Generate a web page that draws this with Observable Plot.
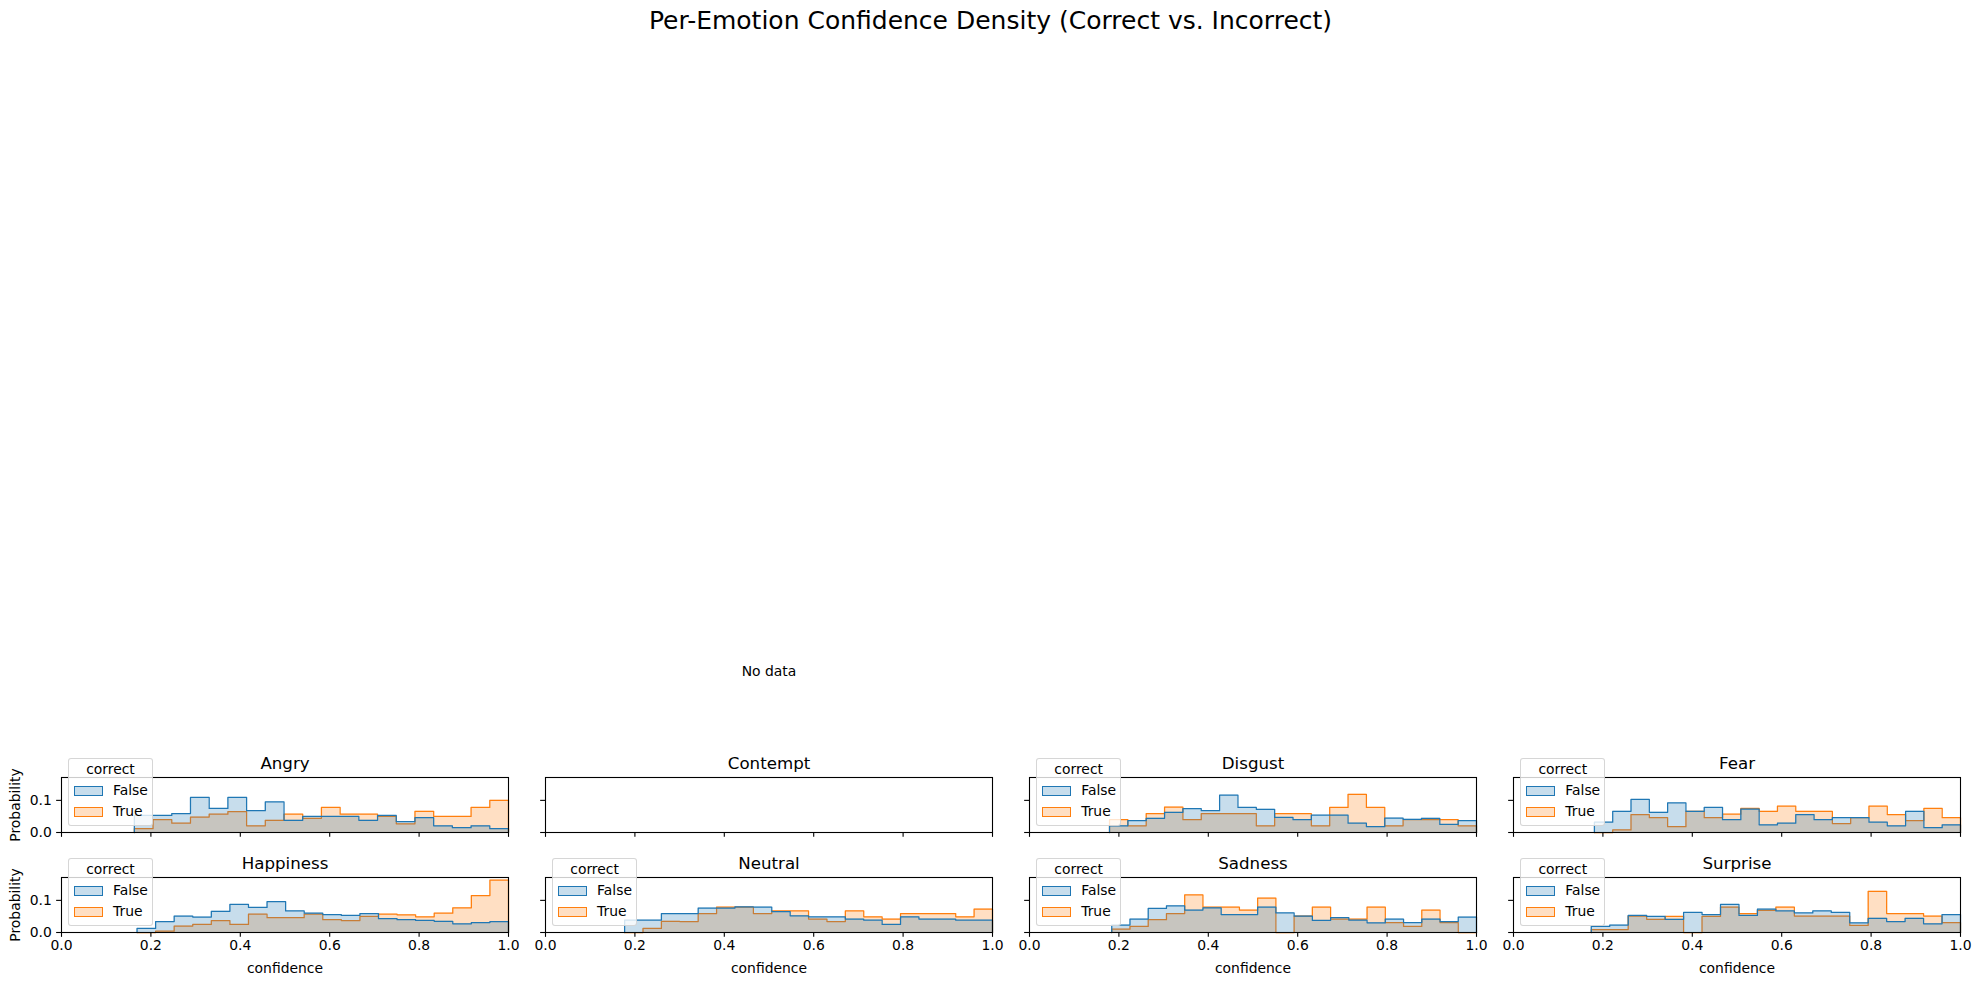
<!DOCTYPE html>
<html>
<head>
<meta charset="utf-8">
<script src="https://cdn.jsdelivr.net/npm/d3@7"></script>
<script src="https://cdn.jsdelivr.net/npm/@observablehq/plot@0.6"></script>
<style>
  body { margin: 0; background: #fff; font-family: "DejaVu Sans", sans-serif; }
  #fig { position: relative; width: 1981px; height: 985px; overflow: hidden; background: #fff; }
  .suptitle { position: absolute; left: 0; width: 1981px; top: 6px; text-align: center; font-size: 25px; line-height: 29px; color: #000; }
  .legend { position: absolute; width: 85px; height: 68px; box-sizing: border-box; background: rgba(255,255,255,0.8);
            border: 1px solid rgba(204,204,204,0.8); border-radius: 3px; font-size: 13.9px; color: #000; }
  .legend .lt { position: absolute; left: 0; width: 100%; top: 2px; text-align: center; line-height: 16px; }
  .legend .lab { position: absolute; left: 44px; line-height: 16px; }
  .legend .sw { position: absolute; left: 5px; width: 29px; height: 10px; box-sizing: border-box; }
</style>
</head>
<body>
<div id="fig">
  <div class="suptitle">Per-Emotion Confidence Density (Correct vs. Incorrect)</div>
</div>
<script>
// ---- data ----
const emotions = ["Angry", "Contempt", "Disgust", "Fear", "Happiness", "Neutral", "Sadness", "Surprise"];
const hueLevels = ["False", "True"];
const hueColors = ["#1f77b4", "#ff7f0e"];
const xTicks = [0, 0.2, 0.4, 0.6, 0.8, 1.0];
const yTicks = [0, 0.1];
// lowest confidence in each emotion (first bin edge); highest is 1.0; 20 bins each
const binStart = [0.163, null, 0.179, 0.181, 0.169, 0.177, 0.184, 0.174];
const binEnd = 1.0;

const angryFalse = [0.053, 0.053, 0.059, 0.109, 0.075, 0.109, 0.068, 0.095, 0.038, 0.050, 0.050, 0.050, 0.038, 0.053, 0.034, 0.046, 0.021, 0.015, 0.021, 0.012];
const angryTrue  = [0.012, 0.040, 0.029, 0.048, 0.057, 0.065, 0.021, 0.038, 0.057, 0.044, 0.078, 0.057, 0.057, 0.050, 0.027, 0.066, 0.050, 0.050, 0.078, 0.100];
const disgustFalse = [0.021, 0.037, 0.044, 0.063, 0.074, 0.068, 0.116, 0.078, 0.072, 0.047, 0.040, 0.054, 0.054, 0.029, 0.018, 0.045, 0.041, 0.044, 0.025, 0.037];
const disgustTrue  = [0.040, 0.021, 0.059, 0.079, 0.040, 0.059, 0.059, 0.059, 0.021, 0.059, 0.059, 0.021, 0.078, 0.119, 0.078, 0.021, 0.040, 0.040, 0.040, 0.021];
const fearFalse = [0.032, 0.066, 0.103, 0.063, 0.092, 0.066, 0.078, 0.040, 0.073, 0.024, 0.029, 0.056, 0.040, 0.046, 0.046, 0.032, 0.021, 0.066, 0.015, 0.024];
const fearTrue  = [0.000, 0.008, 0.056, 0.046, 0.018, 0.066, 0.046, 0.057, 0.075, 0.066, 0.082, 0.066, 0.066, 0.028, 0.046, 0.082, 0.056, 0.037, 0.075, 0.046];
const happinessFalse = [0.0125, 0.034, 0.051, 0.048, 0.066, 0.0875, 0.078, 0.096, 0.067, 0.060, 0.056, 0.053, 0.059, 0.043, 0.040, 0.0375, 0.035, 0.027, 0.031, 0.034];
const happinessTrue  = [0.000, 0.004, 0.020, 0.025, 0.037, 0.025, 0.057, 0.046, 0.046, 0.057, 0.040, 0.037, 0.050, 0.057, 0.055, 0.049, 0.060, 0.077, 0.115, 0.163];
const neutralFalse = [0.0385, 0.0385, 0.059, 0.059, 0.076, 0.076, 0.080, 0.079, 0.065, 0.052, 0.049, 0.049, 0.042, 0.0385, 0.025, 0.049, 0.042, 0.042, 0.0385, 0.0385];
const neutralTrue  = [0.000, 0.0125, 0.035, 0.034, 0.059, 0.079, 0.079, 0.059, 0.067, 0.067, 0.042, 0.034, 0.067, 0.049, 0.042, 0.059, 0.059, 0.059, 0.049, 0.073];
const sadnessFalse = [0.023, 0.042, 0.075, 0.083, 0.070, 0.077, 0.056, 0.056, 0.079, 0.061, 0.051, 0.0375, 0.046, 0.0385, 0.030, 0.042, 0.031, 0.042, 0.034, 0.048];
const sadnessTrue  = [0.0104, 0.019, 0.040, 0.059, 0.117, 0.079, 0.079, 0.070, 0.107, 0.000, 0.051, 0.079, 0.042, 0.042, 0.079, 0.031, 0.019, 0.070, 0.031, 0.000];
const surpriseFalse = [0.019, 0.023, 0.053, 0.050, 0.041, 0.0625, 0.056, 0.0875, 0.053, 0.073, 0.067, 0.061, 0.067, 0.0625, 0.030, 0.044, 0.034, 0.044, 0.027, 0.056];
const surpriseTrue  = [0.009, 0.009, 0.051, 0.041, 0.050, 0.000, 0.050, 0.079, 0.059, 0.069, 0.079, 0.051, 0.051, 0.051, 0.022, 0.128, 0.059, 0.059, 0.051, 0.031];

const seriesFalse = [angryFalse, null, disgustFalse, fearFalse, happinessFalse, neutralFalse, sadnessFalse, surpriseFalse];
const seriesTrue  = [angryTrue, null, disgustTrue, fearTrue, happinessTrue, neutralTrue, sadnessTrue, surpriseTrue];
const noDataX = 0.5, noDataY = 0.5;

// ---- layout ----
const nCols = 4;
const axW = 447, axH = 55;
const colLeft0 = 61, colStep = 484.1;
const rowTops = [777, 877.3];
const ML = 60, MR = 12, MT = 30, MB = 50;
const tickLen = 4.86;

const allVals = [...seriesFalse, ...seriesTrue].filter(Boolean).flat();
const yMax = d3.max(allVals) * 1.05;

function stepData(start, vals) {
  const n = vals.length, w = (binEnd - start) / n;
  const area = vals.map((v, i) => ({x: start + i * w, y: v}));
  area.push({x: binEnd, y: vals[n - 1]});
  const line = [{x: start, y: 0}, ...area, {x: binEnd, y: 0}];
  return {area, line};
}

const fig = document.getElementById("fig");

emotions.forEach((emo, idx) => {
  const col = idx % nCols, row = Math.floor(idx / nCols);
  const axLeft = colLeft0 + col * colStep, axTop = rowTops[row];
  const marks = [];
  const hasData = seriesFalse[idx] != null;
  if (hasData) {
    // True drawn first, False on top (seaborn order)
    [[seriesTrue[idx], hueColors[1]], [seriesFalse[idx], hueColors[0]]].forEach(([vals, color]) => {
      const {area, line} = stepData(binStart[idx], vals);
      marks.push(Plot.areaY(area, {x: "x", y: "y", curve: "step-after", fill: color, fillOpacity: 0.25}));
      marks.push(Plot.lineY(line, {x: "x", y: "y", curve: "step-after", stroke: color, strokeWidth: 1.25}));
    });
  } else {
    marks.push(Plot.text([{x: noDataX, y: noDataY, t: "No data"}], {x: "x", y: "y", text: "t", fontSize: 13.9, fill: "black", lineAnchor: "middle"}));
  }
  marks.push(Plot.axisX({ticks: xTicks, tickSize: tickLen, tickPadding: 3, strokeWidth: 1.1, label: null,
    tickFormat: row === 1 ? ".1f" : () => ""}));
  marks.push(Plot.axisY({ticks: yTicks, tickSize: tickLen, tickPadding: tickLen, strokeWidth: 1.1, label: null,
    tickFormat: col === 0 ? ".1f" : () => ""}));
  marks.push(Plot.text([emo], {frameAnchor: "top", dy: -8.3, lineAnchor: "bottom", fontSize: 16.67, fill: "black"}));
  if (col === 0) marks.push(Plot.text(["Probability"], {frameAnchor: "left", rotate: -90, dx: -41.6, lineAnchor: "bottom", textAnchor: "middle", fontSize: 13.9, fill: "black"}));
  if (row === 1) marks.push(Plot.text(["confidence"], {frameAnchor: "bottom", dy: 40.7, lineAnchor: "bottom", fontSize: 13.9, fill: "black"}));
  marks.push(Plot.frame({stroke: "black", strokeWidth: 1.1}));

  const svg = Plot.plot({
    width: axW + ML + MR, height: axH + MT + MB,
    marginLeft: ML, marginRight: MR, marginTop: MT, marginBottom: MB,
    x: {domain: [0, 1]},
    y: {domain: [0, yMax]},
    style: {fontFamily: "DejaVu Sans", fontSize: "13.9px", overflow: "visible", background: "transparent", color: "black"},
    marks
  });
  svg.style.position = "absolute";
  svg.style.left = (axLeft - ML) + "px";
  svg.style.top = (axTop - MT) + "px";
  fig.appendChild(svg);
});

// legends on top
emotions.forEach((emo, idx) => {
  if (seriesFalse[idx] == null) return;
  const col = idx % nCols, row = Math.floor(idx / nCols);
  const axLeft = colLeft0 + col * colStep, axTop = rowTops[row];
  const lg = document.createElement("div");
  lg.className = "legend";
  lg.style.left = (axLeft + 7) + "px";
  lg.style.top = (axTop - 19) + "px";
  let html = `<div class="lt">correct</div>`;
  hueLevels.forEach((h, k) => {
    const c = d3.color(hueColors[k]);
    const fillC = `rgba(${c.r},${c.g},${c.b},0.25)`;
    html += `<div class="sw" style="top:${27 + k * 21}px;background:${fillC};border:1.25px solid ${hueColors[k]}"></div>`;
    html += `<div class="lab" style="top:${23 + k * 21}px">${h}</div>`;
  });
  lg.innerHTML = html;
  fig.appendChild(lg);
});
</script>
</body>
</html>
